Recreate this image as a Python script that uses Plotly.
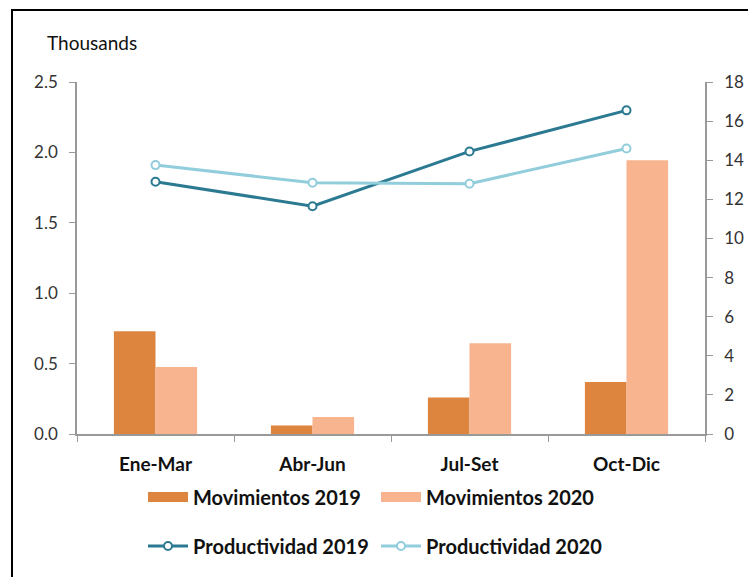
import plotly.graph_objects as go

categories = ["Ene-Mar", "Abr-Jun", "Jul-Set", "Oct-Dic"]
mov_2019 = [0.73, 0.06, 0.26, 0.37]
mov_2020 = [0.475, 0.12, 0.645, 1.945]
prod_2019 = [12.9, 11.65, 14.45, 16.55]
prod_2020 = [13.75, 12.85, 12.8, 14.6]
left_ticks = [0.0, 0.5, 1.0, 1.5, 2.0, 2.5]
right_ticks = [0, 2, 4, 6, 8, 10, 12, 14, 16, 18]

C19, C20 = "#DD843F", "#F8B48E"
P19, P20 = "#2B7A92", "#92CDDC"
FONT = "Lato"

# plot area in figure pixels (page is offset by 8px body margin)
L, R, T, B = 69, 697, 74, 426
H = B - T
W = R - L

fig = go.Figure()
fig.add_trace(go.Bar(x=categories, y=mov_2019, name="Movimientos 2019", showlegend=False,
                     marker=dict(color=C19, line=dict(width=0))))
fig.add_trace(go.Bar(x=categories, y=mov_2020, name="Movimientos 2020", showlegend=False,
                     marker=dict(color=C20, line=dict(width=0))))
# legend-only entries with a wide rectangular swatch for the bars
fig.add_trace(go.Scatter(x=[None], y=[None], name="Movimientos 2019", mode="lines",
                         line=dict(color=C19, width=15), legend="legend", hoverinfo="skip"))
fig.add_trace(go.Scatter(x=[None], y=[None], name="Movimientos 2020", mode="lines",
                         line=dict(color=C20, width=15), legend="legend", hoverinfo="skip"))
fig.add_trace(go.Scatter(x=categories, y=prod_2019, name="Productividad 2019", yaxis="y2",
                         mode="lines+markers", line=dict(color=P19, width=3), legend="legend2",
                         marker=dict(symbol="circle", size=8, color="white",
                                     line=dict(color=P19, width=2))))
fig.add_trace(go.Scatter(x=categories, y=prod_2020, name="Productividad 2020", yaxis="y2",
                         mode="lines+markers", line=dict(color=P20, width=3), legend="legend2",
                         marker=dict(symbol="circle", size=8, color="white",
                                     line=dict(color=P20, width=2))))

legend_common = dict(orientation="h", xanchor="left", yanchor="middle",
                     entrywidth=178, entrywidthmode="pixels", traceorder="normal",
                     font=dict(family=FONT, size=20, color="#111111", weight="bold"),
                     itemwidth=40, bgcolor="rgba(0,0,0,0)")

fig.update_layout(
    width=756, height=577,
    margin=dict(l=L, r=756 - R, t=T, b=577 - B),
    paper_bgcolor="white", plot_bgcolor="white",
    font=dict(family=FONT, size=17, color="#333333"),
    barmode="group", bargap=0.47, bargroupgap=0,
    showlegend=True,
    legend=dict(x=(135 - L) / W, y=(B - 489) / H, **legend_common),
    legend2=dict(x=(135 - L) / W, y=(B - 538) / H, **legend_common),
    xaxis=dict(showline=True, linecolor="#999999", linewidth=1.5,
               ticks="outside", tickson="boundaries", ticklen=6, tickcolor="#999999",
               ticklabelstandoff=12,
               tickfont=dict(family=FONT, size=19, color="#111111", weight="bold"),
               showgrid=False),
    yaxis=dict(range=[0, 2.5], tickvals=left_ticks, tickformat=".1f",
               showline=True, linecolor="#999999", linewidth=1.5,
               ticks="outside", ticklen=6, tickcolor="#999999", ticklabelstandoff=8,
               showgrid=False, zeroline=False,
               tickfont=dict(family=FONT, size=17, color="#333333")),
    yaxis2=dict(range=[0, 18], tickvals=right_ticks, overlaying="y", side="right",
                showline=True, linecolor="#999999", linewidth=1.5,
                ticks="outside", ticklen=6, tickcolor="#999999", ticklabelstandoff=8,
                showgrid=False, zeroline=False,
                tickfont=dict(family=FONT, size=17, color="#333333")),
    annotations=[dict(text="Thousands", xref="paper", yref="paper",
                      x=(37 - L) / W, y=(B - 35) / H, xanchor="left", yanchor="middle",
                      showarrow=False, font=dict(family=FONT, size=19, color="#111111"))],
    shapes=[dict(type="rect", xref="paper", yref="paper",
                 x0=(4 - L) / W, x1=1.3, y0=-0.6, y1=(B - 2) / H,
                 line=dict(color="black", width=2), fillcolor="rgba(0,0,0,0)", layer="above")],
)

fig.write_html("out.html")
